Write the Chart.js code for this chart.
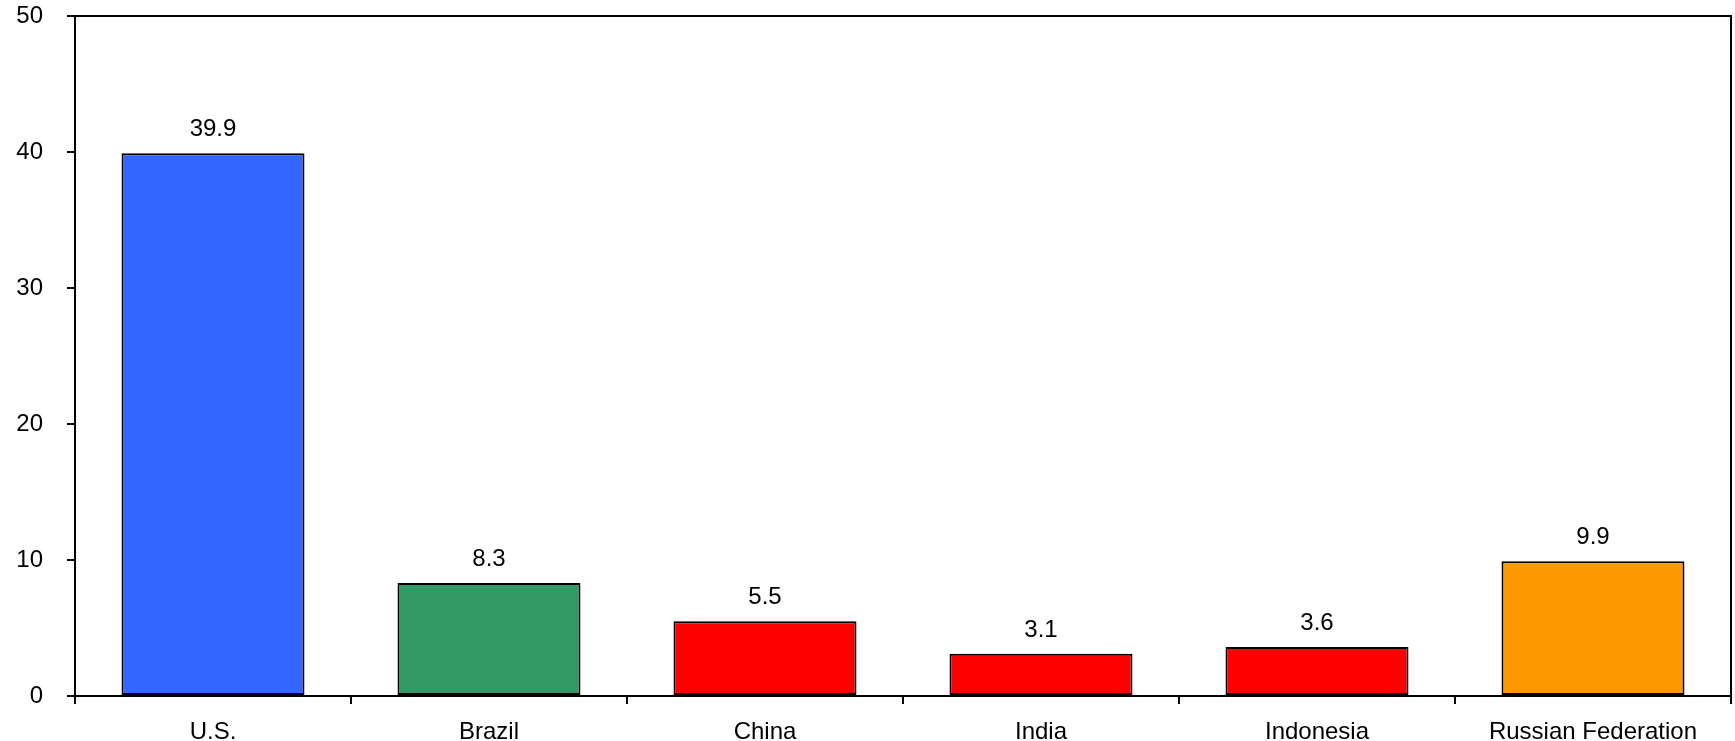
<!DOCTYPE html>
<html>
<head>
<meta charset="utf-8">
<script src="https://cdn.jsdelivr.net/npm/chart.js@4"></script>
<style>
  html, body { margin: 0; padding: 0; background: #fff; }
  #wrap { width: 1735px; height: 741px; }
</style>
</head>
<body>
<div id="wrap"><canvas id="barChart"></canvas></div>
<script>
// --- Data ---
const countries = ['U.S.', 'Brazil', 'China', 'India', 'Indonesia', 'Russian Federation'];
const values = [39.9, 8.3, 5.5, 3.1, 3.6, 9.9];
const barColors = ['#3366FF', '#339966', '#FF0000', '#FF0000', '#FF0000', '#FF9900'];
const yTicks = [0, 10, 20, 30, 40, 50];

Chart.defaults.font.family = '"Liberation Sans", Arial, sans-serif';
Chart.defaults.font.size = 24;
Chart.defaults.color = '#000';

// value labels above bars + box around plot area
const valueLabels = {
    id: 'valueLabels',
    afterDatasetsDraw(chart) {
        const ctx = chart.ctx;
        const area = chart.chartArea;
        ctx.save();
        ctx.strokeStyle = '#000';
        ctx.lineWidth = 2;
        ctx.beginPath();
        ctx.moveTo(area.left, area.top);
        ctx.lineTo(area.right, area.top);
        ctx.lineTo(area.right, area.bottom);
        ctx.stroke();

        ctx.fillStyle = '#000';
        ctx.font = '24px "Liberation Sans", Arial, sans-serif';
        ctx.textAlign = 'center';
        ctx.textBaseline = 'alphabetic';
        chart.getDatasetMeta(0).data.forEach(function (bar, i) {
            ctx.fillText(values[i].toFixed(1), bar.x, bar.y - 17);
        });
        ctx.restore();
    }
};

const ctx = document.getElementById('barChart').getContext('2d');
new Chart(ctx, {
    type: 'bar',
    data: {
        labels: countries,
        datasets: [{
            data: values,
            backgroundColor: barColors,
            borderColor: '#000',
            borderWidth: 2,
            borderSkipped: false,
            categoryPercentage: 1,
            barPercentage: 0.663
        }]
    },
    options: {
        responsive: true,
        maintainAspectRatio: false,
        animation: false,
        layout: { padding: { top: 16, right: 4, left: 0, bottom: 0 } },
        plugins: { legend: { display: false }, tooltip: { enabled: false } },
        scales: {
            x: {
                grid: { display: true, offset: true, drawOnChartArea: false, tickLength: 8, color: '#000', lineWidth: 2 },
                border: { display: true, color: '#000', width: 2 },
                ticks: { padding: 14, maxRotation: 0, autoSkip: false },
                afterFit(scale) { scale.height = 45; }
            },
            y: {
                min: 0,
                max: 50,
                afterBuildTicks(scale) { scale.ticks = yTicks.map(v => ({ value: v })); },
                grid: { display: true, drawOnChartArea: false, tickLength: 8, color: '#000', lineWidth: 2 },
                border: { display: true, color: '#000', width: 2 },
                ticks: { padding: 24 },
                afterFit(scale) {
                    scale.width = 75;
                    // tick padding should not push the plot area down
                    scale.paddingTop = 0;
                    scale.paddingBottom = 0;
                }
            }
        }
    },
    plugins: [valueLabels]
});
</script>
</body>
</html>
